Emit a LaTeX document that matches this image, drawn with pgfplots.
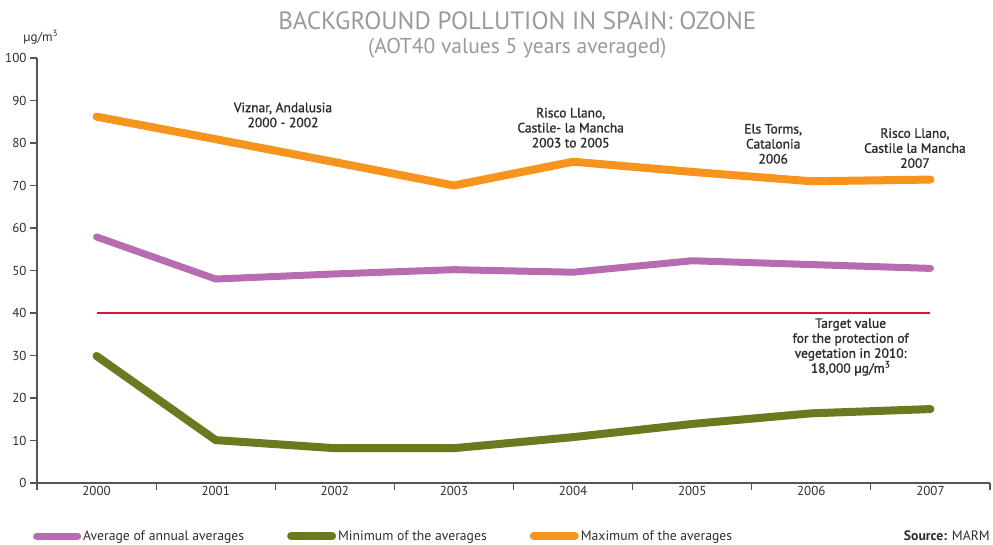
\documentclass[border=0pt]{standalone}
\usepackage{fontspec}
\setmainfont{PT Sans}
\newfontfamily\medfont{PT Sans}[FakeBold=1.3]
\usepackage{pgfplots}
\pgfplotsset{compat=1.18}
\definecolor{orangeL}{HTML}{F7941D}
\definecolor{purpleL}{HTML}{B76BB1}
\definecolor{greenL}{HTML}{6A7A1E}
\definecolor{redL}{HTML}{D7143F}
\definecolor{titlegray}{HTML}{9A9A9A}
\definecolor{axisgray}{HTML}{555555}
\definecolor{txt}{HTML}{2E2E2E}
\begin{document}
\begin{tikzpicture}
\begin{axis}[
  scale only axis, width=953pt, height=425pt,
  xmin=-0.5, xmax=7.5, ymin=0, ymax=100,
  axis lines=left,
  axis line style={-, draw=axisgray, line width=1.2pt},
  tick style={draw=axisgray, line width=1.2pt},
  tick align=outside, major tick length=7pt,
  xtick={-0.5,0.5,...,7.5}, xticklabels={},
  extra x ticks={0,1,2,3,4,5,6,7},
  extra x tick labels={2000,2001,2002,2003,2004,2005,2006,2007},
  extra x tick style={major tick length=0pt},
  ytick={0,10,...,100},
  /pgf/number format/assume math mode=true,
  tick label style={font=\fontsize{13}{15}\selectfont, text=txt},
  legend columns=3,
  legend style={at={(axis description cs:0,-0.125)}, anchor=west, xshift=-4pt,
    draw=none, inner sep=0pt, font=\fontsize{13.7}{15}\selectfont, text=txt,
    /tikz/every even column/.append style={column sep=41pt}},
  legend image code/.code={\draw[#1, line cap=round] (4pt,0pt) -- (36pt,0pt); \path (0pt,0pt) -- (41pt,0pt);},
  clip=false,
]
\addplot[redL, line width=2pt, forget plot] coordinates {(0,40) (7,40)};
\addplot[purpleL, line width=7pt, line join=round, line cap=round] coordinates {
(0,57.9) (1,48.0) (2,49.2) (3,50.2) (4,49.6) (5,52.3) (6,51.4) (7,50.5)};
\addlegendentry{Average of annual averages}
\addplot[greenL, line width=8pt, line join=round, line cap=round] coordinates {
(0,29.9) (1,10.1) (2,8.2) (3,8.2) (4,10.8) (5,13.9) (6,16.4) (7,17.4)};
\addlegendentry{Minimum of the averages}
\addplot[orangeL, line width=8pt, line join=round, line cap=round] coordinates {
(0,86.2) (1,80.9) (2,75.5) (3,70.0) (4,75.6) (5,73.2) (6,71.0) (7,71.4)};
\addlegendentry{Maximum of the averages}

\tikzset{ann/.style={font=\medfont\fontsize{13.5}{15}\selectfont, text=txt, align=center}}
\node[ann] at (axis cs:1.565,86.6) {Viznar, Andalusia\\2000 - 2002};
\node[ann] at (axis cs:3.98,83.6) {Risco Llano,\\Castile- la Mancha\\2003 to 2005};
\node[ann] at (axis cs:5.68,79.8) {Els Torms,\\Catalonia\\2006};
\node[ann] at (axis cs:6.87,78.8) {Risco Llano,\\Castile la Mancha\\2007};
\node[ann] at (axis cs:6.33,32.0) {Target value\\for the protection of\\vegetation in 2010:\\18,000 µg/m\textsuperscript{3}};

\node[font=\fontsize{25}{28}\selectfont, text=titlegray] at (axis description cs:0.504,1.087) {BACKGROUND POLLUTION IN SPAIN: OZONE};
\node[font=\fontsize{21.5}{24}\selectfont, text=titlegray] at (axis description cs:0.504,1.024) {(AOT40 values 5 years averaged)};
\node[font=\fontsize{13}{15}\selectfont, text=txt] at (axis description cs:0.004,1.049) {µg/m\textsuperscript{3}};
\node[font=\fontsize{13.7}{15}\selectfont, text=txt, anchor=east, inner sep=0pt] at (axis description cs:1,-0.125) {\textbf{Source:} MARM};

\coordinate (tl) at (axis description cs:-0.0388,1.1365);
\coordinate (br) at (axis description cs:1.00315,-0.1435);
\end{axis}
\pgfresetboundingbox
\path (tl) rectangle (br);
\end{tikzpicture}
\end{document}
